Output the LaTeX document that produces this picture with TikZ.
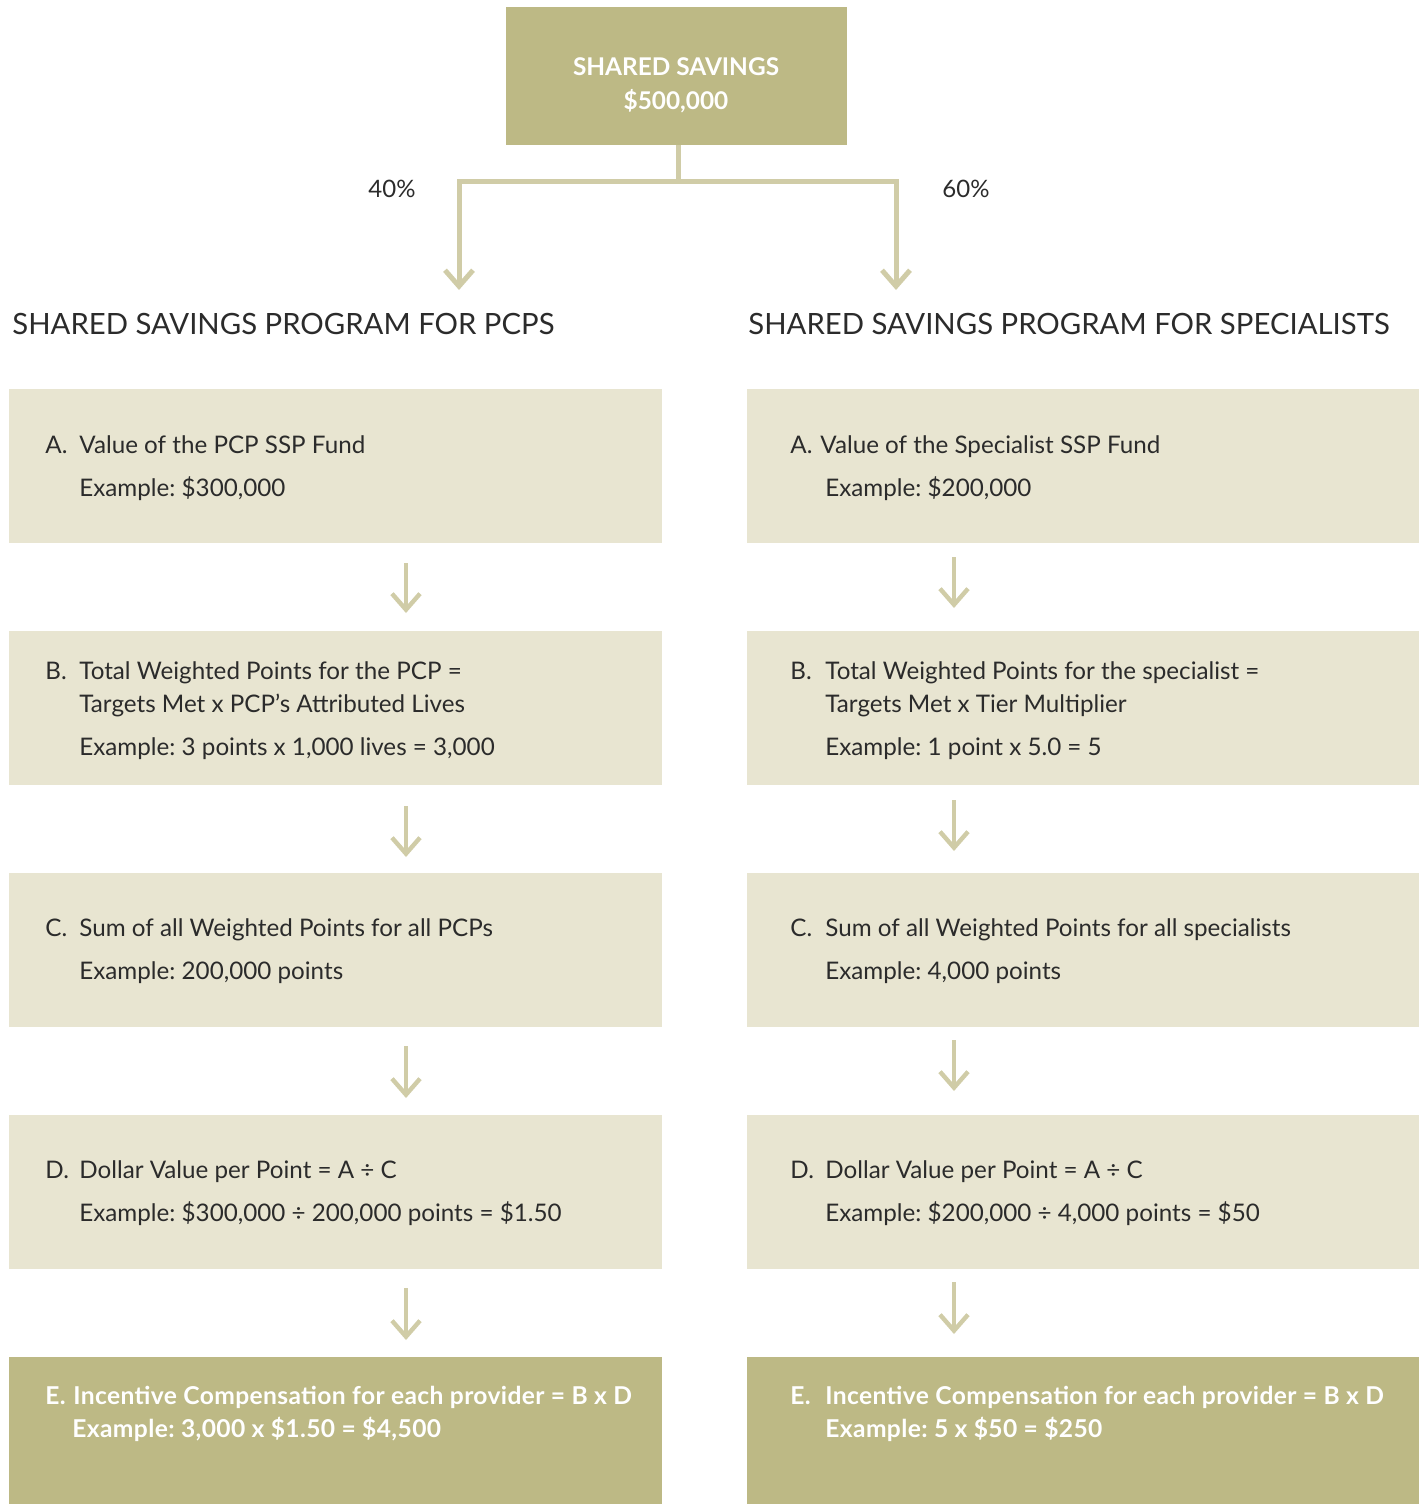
\documentclass[tikz,border=0pt]{standalone}
\usepackage{fontspec}
\setmainfont{Lato}
\usetikzlibrary{arrows.meta}
\definecolor{darkbox}{HTML}{BDB985}
\definecolor{lightbox}{HTML}{E8E5D1}
\definecolor{linecol}{HTML}{D0CCA7}
\definecolor{txt}{HTML}{2B2B2B}
\frenchspacing
\begin{document}
\begin{tikzpicture}[x=0.5pt,y=-0.5pt,
  lbox/.style={fill=lightbox, inner sep=0, outer sep=0, anchor=north west, minimum width=326.5pt, minimum height=77pt},
  rbox/.style={fill=lightbox, inner sep=0, outer sep=0, anchor=north west, minimum width=336pt, minimum height=77pt},
  lboxE/.style={lbox, fill=darkbox, minimum height=73.5pt},
  rboxE/.style={rbox, fill=darkbox, minimum height=73.5pt},
  body/.style={anchor=base west, inner sep=0, text=txt, font=\fontsize{12.1}{14}\selectfont},
  bodyE/.style={anchor=base west, inner sep=0, text=white, font=\fontsize{12.3}{14}\selectfont\bfseries\addfontfeatures{LetterSpace=1.5}},
  head/.style={anchor=base west, inner sep=0, text=txt, font=\fontsize{14.65}{18}\selectfont},
  pct/.style={anchor=base, inner sep=0, text=txt, font=\fontsize{12}{14}\selectfont},
  conn/.style={draw=linecol, line width=2.5pt},
  darrow/.style={draw=linecol, line width=2.2pt, -{Straight Barb[length=8pt,width=14pt,line width=2.2pt]}},
  bigarrow/.style={draw=linecol, line width=2.5pt, -{Straight Barb[length=8pt,width=14pt,line width=2.5pt]}}
]
\useasboundingbox (0,0) rectangle (1426,1504);

% top box
\node[fill=darkbox, inner sep=0, outer sep=0, anchor=north west, minimum width=170.5pt, minimum height=69pt] (top) at (506,7) {};
\node[anchor=base, inner sep=0, text=white, font=\fontsize{12.2}{14}\selectfont\bfseries] (t1) at (676,76) {SHARED SAVINGS};
\node[anchor=base, inner sep=0, text=white, font=\fontsize{12.2}{14}\selectfont\bfseries] (t2) at (676,110) {\$500,000};

% split connector
\coordinate (j) at (678,181);
\coordinate (lt) at (459,290);
\coordinate (rt) at (896,290);
\draw[conn] (top.south -| j) -- (j);
\draw[bigarrow] (j) -| (lt);
\draw[bigarrow] (j) -| (rt);
\node[pct] (p40) at (392,197) {40\%};
\node[pct] (p60) at (966,197) {60\%};

% headings
\node[head] (hl) at (12,334) {SHARED SAVINGS PROGRAM FOR PCPS};
\node[head] (hr) at (748,334) {SHARED SAVINGS PROGRAM FOR SPECIALISTS};

% left boxes
\node[lbox] (LA) at (9,389) {};
\node[lbox] (LB) at (9,631) {};
\node[lbox] (LC) at (9,873) {};
\node[lbox] (LD) at (9,1115) {};
\node[lboxE] (LE) at (9,1357) {};
% right boxes
\node[rbox] (RA) at (747,389) {};
\node[rbox] (RB) at (747,631) {};
\node[rbox] (RC) at (747,873) {};
\node[rbox] (RD) at (747,1115) {};
\node[rboxE] (RE) at (747,1357) {};

% left texts
\node[body] (la1) at (45,453) {\makebox[17pt][l]{A.}Value of the PCP SSP Fund};
\node[body] (la2) at (79,496) {Example: \$300,000};
\node[body] (lb1) at (45,679) {\makebox[17pt][l]{B.}Total Weighted Points for the PCP =};
\node[body] (lb2) at (79,712) {Targets Met x PCP’s Attributed Lives};
\node[body] (lb3) at (79,755) {Example: 3 points x 1,000 lives = 3,000};
\node[body] (lc1) at (45,936) {\makebox[17pt][l]{C.}Sum of all Weighted Points for all PCPs};
\node[body] (lc2) at (79,979) {Example: 200,000 points};
\node[body] (ld1) at (45,1178) {\makebox[17pt][l]{D.}Dollar Value per Point = A ÷ C};
\node[body] (ld2) at (79,1221) {Example: \$300,000 ÷ 200,000 points = \$1.50};
\node[bodyE] (le1) at (45,1404) {\makebox[14pt][l]{E.}Incentive Compensation for each provider = B x D};
\node[bodyE] (le2) at (72,1437) {Example: 3,000 x \$1.50 = \$4,500};

% right texts
\node[body] (ra1) at (790,453) {\makebox[15pt][l]{A.}Value of the Specialist SSP Fund};
\node[body] (ra2) at (825,496) {Example: \$200,000};
\node[body] (rb1) at (790,679) {\makebox[17.5pt][l]{B.}Total Weighted Points for the specialist =};
\node[body] (rb2) at (825,712) {Targets Met x Tier Multiplier};
\node[body] (rb3) at (825,755) {Example: 1 point x 5.0 = 5};
\node[body] (rc1) at (790,936) {\makebox[17.5pt][l]{C.}Sum of all Weighted Points for all specialists};
\node[body] (rc2) at (825,979) {Example: 4,000 points};
\node[body] (rd1) at (790,1178) {\makebox[17.5pt][l]{D.}Dollar Value per Point = A ÷ C};
\node[body] (rd2) at (825,1221) {Example: \$200,000 ÷ 4,000 points = \$50};
\node[bodyE] (re1) at (790,1404) {\makebox[17.5pt][l]{E.}Incentive Compensation for each provider = B x D};
\node[bodyE] (re2) at (825,1437) {Example: 5 x \$50 = \$250};

% small arrows
\coordinate (l1s) at (406,563); \coordinate (l1e) at (406,613);
\coordinate (l2s) at (406,806); \coordinate (l2e) at (406,857);
\coordinate (l3s) at (406,1046); \coordinate (l3e) at (406,1098);
\coordinate (l4s) at (406,1288); \coordinate (l4e) at (406,1340);
\coordinate (r1s) at (954,557); \coordinate (r1e) at (954,608);
\coordinate (r2s) at (954,800); \coordinate (r2e) at (954,851);
\coordinate (r3s) at (954,1040); \coordinate (r3e) at (954,1091);
\coordinate (r4s) at (954,1282); \coordinate (r4e) at (954,1334);
\foreach \a in {l1,l2,l3,l4,r1,r2,r3,r4}{
  \draw[darrow] (\a s) -- (\a e);
}
\end{tikzpicture}
\end{document}
